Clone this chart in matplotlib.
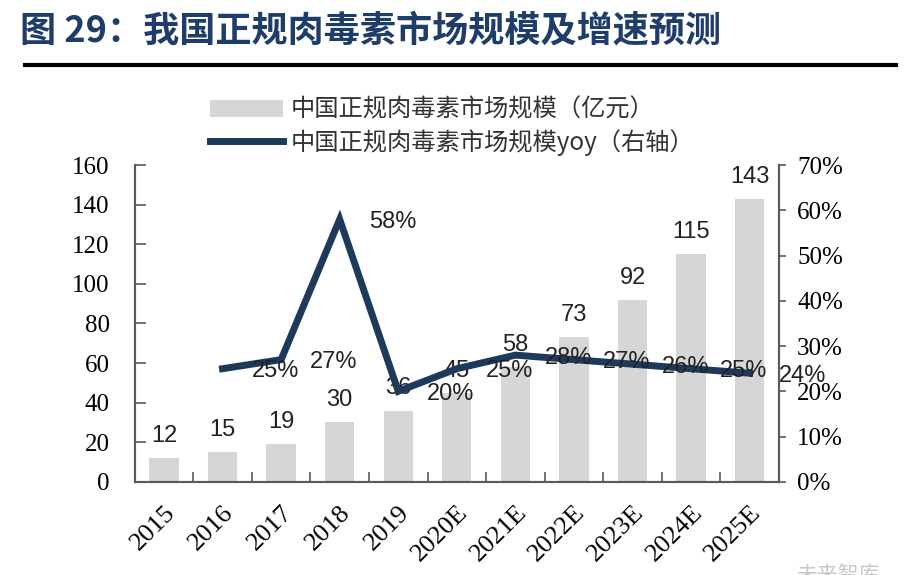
import numpy as np
import matplotlib
matplotlib.use("Agg")
import matplotlib.pyplot as plt
from matplotlib.lines import Line2D
from matplotlib.patches import Patch
from matplotlib.ticker import FuncFormatter, FixedLocator

## data
years = ["2015", "2016", "2017", "2018", "2019", "2020E", "2021E", "2022E", "2023E", "2024E", "2025E"]
market_size = [12, 15, 19, 30, 36, 45, 58, 73, 92, 115, 143]          # 亿元
yoy_years = ["2016", "2017", "2018", "2019", "2020E", "2021E", "2022E", "2023E", "2024E", "2025E"]
yoy = [25, 27, 58, 20, 25, 28, 27, 26, 25, 24]                         # %

title = "图 29：我国正规肉毒素市场规模及增速预测"
bar_label = "中国正规肉毒素市场规模（亿元）"
line_label = "中国正规肉毒素市场规模yoy（右轴）"
watermark = "未来智库"

## colours / fonts
bar_color = "#d6d6d6"
line_color = "#1d3a5c"
title_color = "#1e3d6b"
spine_color = "#5a5a5a"
cjk = ["Noto Sans CJK SC", "DejaVu Sans"]
serif = "Liberation Serif"
sans = "Liberation Sans"

fig = plt.figure(figsize=(9.1, 5.75), dpi=100)
ax = fig.add_axes([0.148, 0.162, 0.708, 0.551])
ax2 = ax.twinx()

x = np.arange(len(years))
ax.bar(x, market_size, width=0.5, color=bar_color, zorder=1)
for xi, v in zip(x, market_size):
    ax.annotate(str(v), (xi, v), xytext=(0, 8), textcoords="offset points",
                ha="center", va="bottom", fontsize=17, family=sans, color="#222222")

x_line = [years.index(y) for y in yoy_years]
ax2.plot(x_line, yoy, color=line_color, lw=5, solid_joinstyle="miter", zorder=3)
for xi, v in zip(x_line, yoy):
    ax2.text(xi + 0.9, v - 0.6, "%d%%" % v, ha="center", va="center",
             fontsize=17, family=sans, color="#222222", zorder=4)

ax.set_xlim(-0.5, len(years) - 0.5)
ax.set_ylim(0, 160)
ax.set_yticks(range(0, 161, 20))
ax2.set_ylim(0, 70)
ax2.set_yticks(range(0, 71, 10))
ax2.yaxis.set_major_formatter(FuncFormatter(lambda v, p: "%d%%" % v))

ax.set_xticks(x)
ax.set_xticklabels(years, rotation=45, ha="right", rotation_mode="anchor",
                   fontsize=19, family=serif)
ax.xaxis.set_minor_locator(FixedLocator(np.arange(-0.5, len(years), 1)))
ax.tick_params(axis="x", which="major", length=0, pad=14)
ax.tick_params(axis="x", which="minor", direction="in", length=7, color=spine_color, width=1.2)
ax.tick_params(axis="y", direction="in", length=8, color=spine_color, width=1.2,
               labelsize=18, pad=18)
ax2.tick_params(axis="y", direction="out", length=5, color=spine_color, width=1.2,
                labelsize=18, pad=8)
for lbl in ax.get_yticklabels() + ax2.get_yticklabels():
    lbl.set_family(serif)

for a in (ax, ax2):
    a.spines["top"].set_visible(False)
    for s in ("left", "right", "bottom"):
        a.spines[s].set_color(spine_color)
        a.spines[s].set_linewidth(1.5)

## title + rule
fig.text(0.022, 0.947, title, fontsize=26, fontweight="bold", color=title_color,
         family=cjk, va="center", ha="left")
fig.add_artist(Line2D([0.027, 0.985], [0.887, 0.887], color="black", lw=3))

## legend
handles = [Patch(facecolor=bar_color, edgecolor="none"),
           Line2D([], [], color=line_color, lw=5)]
leg = fig.legend(handles, [bar_label, line_label], loc="upper left",
                 bbox_to_anchor=(0.207, 0.87), frameon=False,
                 prop={"family": cjk, "size": 17.5}, handlelength=3.0,
                 handleheight=0.7, handletextpad=0.3, labelspacing=0.25)
for t in leg.get_texts():
    t.set_color("#333333")

## faint watermark, cut at the bottom edge as in the source
fig.text(0.875, 0.0, watermark, fontsize=15, color="#c8c8c8", family=cjk,
         ha="left", va="center")

fig.savefig("out.png", dpi=100)
